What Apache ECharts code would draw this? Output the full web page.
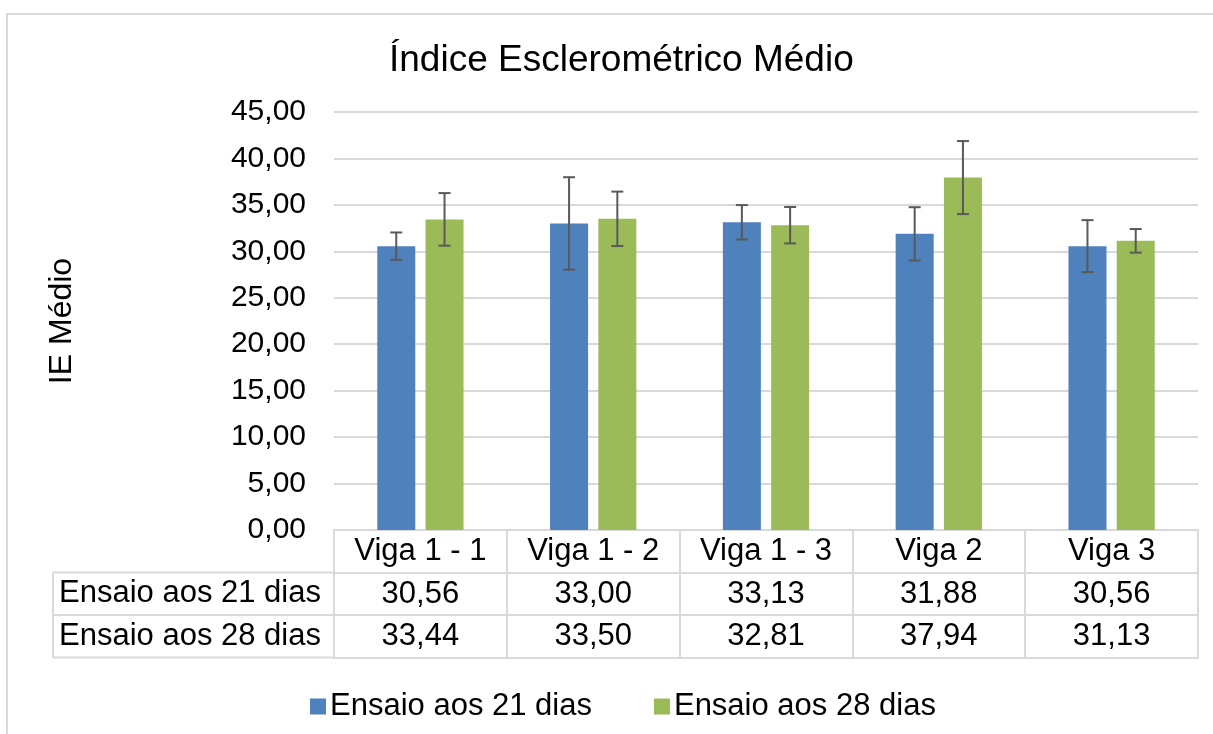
<!DOCTYPE html>
<html>
<head>
<meta charset="utf-8">
<script src="https://cdn.jsdelivr.net/npm/echarts@6/dist/echarts.min.js"></script>
<style>
  html, body { margin: 0; padding: 0; background: #fff; }
  #chart { width: 1213px; height: 734px; }
</style>
</head>
<body>
<div id="chart"></div>
<script>
const titleText = 'Índice Esclerométrico Médio';
const yAxisName = 'IE Médio';
const categories = ['Viga 1 - 1', 'Viga 1 - 2', 'Viga 1 - 3', 'Viga 2', 'Viga 3'];
const seriesNames = ['Ensaio aos 21 dias', 'Ensaio aos 28 dias'];
const ensaio21 = [30.56, 33.00, 33.13, 31.88, 30.56];
const ensaio28 = [33.44, 33.50, 32.81, 37.94, 31.13];
const err21 = [1.47, 4.98, 1.85, 2.87, 2.80];
const err28 = [2.83, 2.93, 1.96, 3.93, 1.27];
const yMin = 0, yMax = 45, yInterval = 5;

const FONT = "'Liberation Sans', Arial, sans-serif";
const BLUE = '#4f81bd', GREEN = '#9bbb59';
const GRID_COLOR = '#d9d9d9';
const BAR_W = 38, BAR_GAP = 0.27;
const fmt = v => v.toFixed(2).replace('.', ',');

const gridLeft = 334, gridRight = 15, gridTop = 112, gridBottom = 204;
const rowH = 42.5;
const TXT = 31;

function errorSeries(name, values, errs, sign) {
  return {
    name: name,
    type: 'custom',
    z: 5,
    silent: true,
    encode: { x: 0, y: [1, 2] },
    data: values.map((v, i) => [i, v - errs[i], v + errs[i]]),
    renderItem: function (params, api) {
      const idx = api.value(0);
      const lo = api.coord([idx, api.value(1)]);
      const hi = api.coord([idx, api.value(2)]);
      const off = sign * (BAR_W + BAR_W * BAR_GAP) / 2;
      const x = lo[0] + off;
      const cap = 6;
      const st = { stroke: '#595959', lineWidth: 2 };
      return {
        type: 'group',
        children: [
          { type: 'line', shape: { x1: x, y1: lo[1], x2: x, y2: hi[1] }, style: st },
          { type: 'line', shape: { x1: x - cap, y1: lo[1], x2: x + cap, y2: lo[1] }, style: st },
          { type: 'line', shape: { x1: x - cap, y1: hi[1], x2: x + cap, y2: hi[1] }, style: st }
        ]
      };
    }
  };
}

const lineStyle = { color: GRID_COLOR, width: 2 };
const labelStyle = { fontSize: TXT, color: '#000', fontFamily: FONT, margin: 6 };

const chart = echarts.init(document.getElementById('chart'));
const tableBottom = 530 + rowH * 3;

chart.setOption({
  backgroundColor: '#fff',
  animation: false,
  title: {
    text: titleText,
    left: 384,
    top: 37,
    textStyle: { fontSize: 37, fontWeight: 'normal', color: '#000', fontFamily: FONT }
  },
  legend: {
    data: seriesNames,
    left: 305,
    top: 686,
    itemWidth: 16,
    itemHeight: 16,
    itemGap: 62,
    icon: 'rect',
    textStyle: { fontSize: TXT, color: '#000', fontFamily: FONT, padding: [0, 0, 0, -1] }
  },
  grid: { left: gridLeft, right: gridRight, top: gridTop, bottom: gridBottom, containLabel: false },
  xAxis: [
    {
      type: 'category', data: categories, position: 'bottom',
      axisLine: { show: true, lineStyle: lineStyle },
      axisTick: { show: true, length: rowH * 3, lineStyle: lineStyle },
      axisLabel: labelStyle,
      splitLine: { show: false }
    },
    {
      type: 'category', data: categories, position: 'bottom', offset: rowH,
      axisLine: { show: true, lineStyle: lineStyle },
      axisTick: { show: false },
      axisLabel: Object.assign({}, labelStyle, { formatter: (v, i) => fmt(ensaio21[i]) })
    },
    {
      type: 'category', data: categories, position: 'bottom', offset: rowH * 2,
      axisLine: { show: true, lineStyle: lineStyle },
      axisTick: { show: false },
      axisLabel: Object.assign({}, labelStyle, { formatter: (v, i) => fmt(ensaio28[i]) })
    },
    {
      type: 'category', data: categories, position: 'bottom', offset: rowH * 3,
      axisLine: { show: true, lineStyle: lineStyle },
      axisTick: { show: false },
      axisLabel: { show: false }
    }
  ],
  yAxis: {
    type: 'value',
    min: yMin, max: yMax, interval: yInterval,
    name: yAxisName,
    nameLocation: 'middle',
    nameGap: 256,
    nameTextStyle: { fontSize: 32, color: '#000', fontFamily: FONT },
    axisLine: { show: false },
    axisTick: { show: false },
    axisLabel: { fontSize: 30, color: '#000', fontFamily: FONT, margin: 28, formatter: v => fmt(v) },
    splitLine: { show: true, lineStyle: lineStyle }
  },
  graphic: [
    { type: 'rect', shape: { x: 7, y: 14, width: 1240, height: 760 }, style: { fill: null, stroke: GRID_COLOR, lineWidth: 2 }, z: -1 },
    { type: 'line', shape: { x1: 53, y1: 530 + rowH, x2: gridLeft, y2: 530 + rowH }, style: { stroke: GRID_COLOR, lineWidth: 2 } },
    { type: 'line', shape: { x1: 53, y1: 530 + rowH * 2, x2: gridLeft, y2: 530 + rowH * 2 }, style: { stroke: GRID_COLOR, lineWidth: 2 } },
    { type: 'line', shape: { x1: 53, y1: tableBottom, x2: gridLeft, y2: tableBottom }, style: { stroke: GRID_COLOR, lineWidth: 2 } },
    { type: 'line', shape: { x1: 53, y1: 530 + rowH, x2: 53, y2: tableBottom }, style: { stroke: GRID_COLOR, lineWidth: 2 } },
    { type: 'text', x: 59, y: 530 + rowH * 1.5, style: { text: seriesNames[0], font: TXT + 'px ' + FONT, fill: '#000', verticalAlign: 'middle' } },
    { type: 'text', x: 59, y: 530 + rowH * 2.5, style: { text: seriesNames[1], font: TXT + 'px ' + FONT, fill: '#000', verticalAlign: 'middle' } }
  ],
  series: [
    { name: seriesNames[0], type: 'bar', data: ensaio21, barWidth: BAR_W, barGap: (BAR_GAP * 100) + '%', itemStyle: { color: BLUE } },
    { name: seriesNames[1], type: 'bar', data: ensaio28, barWidth: BAR_W, barGap: (BAR_GAP * 100) + '%', itemStyle: { color: GREEN } },
    errorSeries('err21', ensaio21, err21, -1),
    errorSeries('err28', ensaio28, err28, 1)
  ]
});
</script>
</body>
</html>
